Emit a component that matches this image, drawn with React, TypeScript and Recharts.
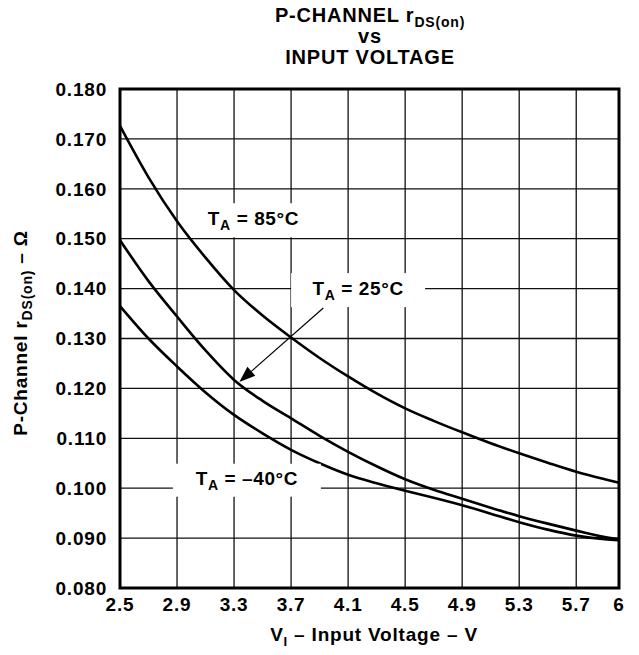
import React from 'react';
import {
  LineChart, Line, XAxis, YAxis, CartesianGrid, ReferenceArea, ReferenceDot, ReferenceLine
} from 'recharts';

// input voltage (V)
const voltages = [2.5, 2.7, 2.9, 3.1, 3.3, 3.5, 3.7, 3.9, 4.1, 4.3, 4.5, 4.7, 4.9, 5.1, 5.3, 5.5, 5.7, 5.9, 6.0];

// rDS(on) in ohms
const r85 = [0.1726, 0.1623, 0.1535, 0.1462, 0.1397, 0.1346, 0.1302, 0.1261, 0.1224, 0.1190, 0.1160, 0.1135, 0.1112, 0.1090, 0.1070, 0.1051, 0.1033, 0.1018, 0.1011];
const r25 = [0.1497, 0.1415, 0.1344, 0.1276, 0.1217, 0.1175, 0.1140, 0.1105, 0.1073, 0.1044, 0.1018, 0.0997, 0.0979, 0.0961, 0.0944, 0.0929, 0.0915, 0.0902, 0.0898];
const rM40 = [0.1365, 0.1300, 0.1244, 0.1192, 0.1147, 0.1110, 0.1077, 0.1050, 0.1027, 0.1010, 0.0995, 0.0981, 0.0966, 0.0949, 0.0932, 0.0917, 0.0905, 0.0898, 0.0896];

const xTicks = [2.5, 2.9, 3.3, 3.7, 4.1, 4.5, 4.9, 5.3, 5.7, 6];
const yTicks = [0.08, 0.09, 0.10, 0.11, 0.12, 0.13, 0.14, 0.15, 0.16, 0.17, 0.18];

const tempLabels = ['85', '25', '\u201340'];

const data = voltages.map((v, i) => ({ v, t85: r85[i], t25: r25[i], tm40: rM40[i] }));

const FONT = '"Liberation Sans", Arial, Helvetica, sans-serif';
const tickStyle = { fill: '#000', fontSize: 19, fontWeight: 700, fontFamily: FONT, letterSpacing: 0.8 };

// label anchors in data units, with white box sizes in px
const labelSpots = [
  { x: 3.436, y: 0.1537, w: 124, h: 34 },
  { x: 4.17, y: 0.1397, w: 134, h: 34 },
  { x: 3.39, y: 0.1016, w: 148, h: 33 },
];

const TempLabel = ({ cx, cy, temp, w, h }: any) => (
  <g>
    <rect x={cx - w / 2} y={cy - h / 2} width={w} height={h} fill="#fff" />
    <text x={cx} y={cy + 5} textAnchor="middle" fontFamily={FONT} fontWeight={700} fontSize={19} fill="#000" letterSpacing={0.6}>
      <tspan>T</tspan>
      <tspan fontSize={14} dy={5}>A</tspan>
      <tspan dy={-5}>{'  = ' + temp + '\u00B0C'}</tspan>
    </text>
  </g>
);

const Arrow = ({ x1, y1, x2, y2 }: any) => {
  const ang = Math.atan2(y2 - y1, x2 - x1);
  const len = 16;
  const half = 6;
  const bx = x2 - len * Math.cos(ang);
  const by = y2 - len * Math.sin(ang);
  const px = -Math.sin(ang) * half;
  const py = Math.cos(ang) * half;
  return (
    <g>
      <line x1={x1} y1={y1} x2={bx} y2={by} stroke="#000" strokeWidth={1.2} />
      <polygon points={`${x2},${y2} ${bx + px},${by + py} ${bx - px},${by - py}`} fill="#000" />
    </g>
  );
};

export default function App() {
  return (
    <div style={{ position: 'absolute', left: 0, top: 0, width: 639, height: 655, background: '#fff' }}>
      <LineChart width={639} height={655} data={data} margin={{ top: 89, right: 20, left: 0, bottom: 0 }}>
        <CartesianGrid stroke="#111" strokeWidth={1.3} />
        <XAxis
          dataKey="v"
          type="number"
          domain={[2.5, 6]}
          ticks={xTicks}
          height={67}
          axisLine={false}
          tickLine={false}
          tickSize={0}
          tickMargin={10}
          tick={tickStyle}
          interval={0}
          tickFormatter={(v: number) => String(v)}
        />
        <YAxis
          type="number"
          domain={[0.08, 0.18]}
          ticks={yTicks}
          width={120}
          axisLine={false}
          tickLine={false}
          tickSize={0}
          tickMargin={13}
          tick={tickStyle}
          interval={0}
          tickFormatter={(v: number) => v.toFixed(3)}
        />
        <ReferenceArea x1={2.5} x2={6} y1={0.08} y2={0.18} fill="none" stroke="#000" strokeWidth={3} />
        <Line dataKey="t85" type="monotone" stroke="#000" strokeWidth={2.6} dot={false} isAnimationActive={false} />
        <Line dataKey="t25" type="monotone" stroke="#000" strokeWidth={2.6} dot={false} isAnimationActive={false} />
        <Line dataKey="tm40" type="monotone" stroke="#000" strokeWidth={2.6} dot={false} isAnimationActive={false} />
        {labelSpots.map((s, i) => (
          <ReferenceDot
            key={i}
            x={s.x}
            y={s.y}
            r={1}
            shape={(p: any) => <TempLabel {...p} temp={tempLabels[i]} w={s.w} h={s.h} />}
          />
        ))}
        <ReferenceLine
          segment={[{ x: 3.926, y: 0.1361 }, { x: 3.337, y: 0.1213 }]}
          shape={(p: any) => <Arrow {...p} />}
        />
      </LineChart>
      <svg width={639} height={655} style={{ position: 'absolute', left: 0, top: 0, pointerEvents: 'none' }}>
        <g fontFamily={FONT} fontWeight={700} fill="#000" textAnchor="middle" letterSpacing={0.8}>
          <text x={370} y={22} fontSize={20}>
            <tspan>P-CHANNEL r</tspan>
            <tspan fontSize={14} dy={5}>DS(on)</tspan>
          </text>
          <text x={370} y={43} fontSize={20}>vs</text>
          <text x={370} y={64} fontSize={20}>INPUT VOLTAGE</text>
          <text x={374} y={641} fontSize={19}>
            <tspan>V</tspan>
            <tspan fontSize={13} dy={5}>I</tspan>
            <tspan dy={-5}>{' \u2013 Input Voltage \u2013 V'}</tspan>
          </text>
          <text x={27} y={333} fontSize={19} transform="rotate(-90 27 333)">
            <tspan>P-Channel r</tspan>
            <tspan fontSize={14} dy={5}>DS(on)</tspan>
            <tspan dy={-5}>{' \u2013 \u03A9'}</tspan>
          </text>
        </g>
      </svg>
    </div>
  );
}
